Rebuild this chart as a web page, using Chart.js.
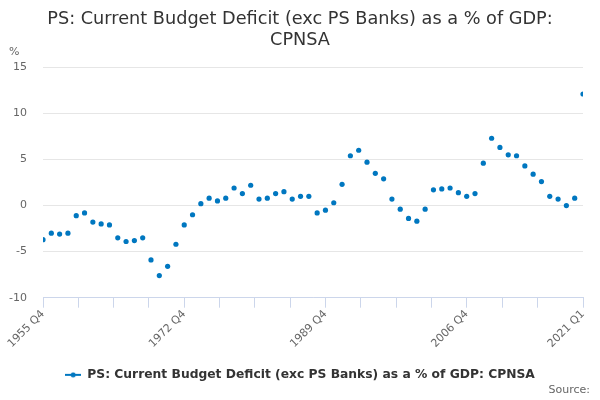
<!DOCTYPE html>
<html>
<head>
<meta charset="utf-8">
<script src="https://cdn.jsdelivr.net/npm/chart.js@4"></script>
<style>
  html, body { margin: 0; padding: 0; background: #fff; }
  #wrap { width: 600px; height: 400px; }
</style>
</head>
<body>
<div id="wrap"><canvas id="chart" width="600" height="400"></canvas></div>
<script>
// one point per year (Q4), last point is 2021 Q1
const categories = [
  '1955 Q4','1956 Q4','1957 Q4','1958 Q4','1959 Q4','1960 Q4','1961 Q4','1962 Q4','1963 Q4','1964 Q4',
  '1965 Q4','1966 Q4','1967 Q4','1968 Q4','1969 Q4','1970 Q4','1971 Q4','1972 Q4','1973 Q4','1974 Q4',
  '1975 Q4','1976 Q4','1977 Q4','1978 Q4','1979 Q4','1980 Q4','1981 Q4','1982 Q4','1983 Q4','1984 Q4',
  '1985 Q4','1986 Q4','1987 Q4','1988 Q4','1989 Q4','1990 Q4','1991 Q4','1992 Q4','1993 Q4','1994 Q4',
  '1995 Q4','1996 Q4','1997 Q4','1998 Q4','1999 Q4','2000 Q4','2001 Q4','2002 Q4','2003 Q4','2004 Q4',
  '2005 Q4','2006 Q4','2007 Q4','2008 Q4','2009 Q4','2010 Q4','2011 Q4','2012 Q4','2013 Q4','2014 Q4',
  '2015 Q4','2016 Q4','2017 Q4','2018 Q4','2019 Q4','2021 Q1'
];

const deficit = [
  -3.7, -3.0, -3.1, -3.0, -1.1, -0.8, -1.8, -2.0, -2.1, -3.5,
  -3.9, -3.8, -3.5, -5.9, -7.6, -6.6, -4.2, -2.1, -1.0, 0.2,
  0.8, 0.5, 0.8, 1.9, 1.3, 2.2, 0.7, 0.8, 1.3, 1.5,
  0.7, 1.0, 1.0, -0.8, -0.5, 0.3, 2.3, 5.4, 6.0, 4.7,
  3.5, 2.9, 0.7, -0.4, -1.4, -1.7, -0.4, 1.7, 1.8, 1.9,
  1.4, 1.0, 1.3, 4.6, 7.3, 6.3, 5.5, 5.4, 4.3, 3.4,
  2.6, 1.0, 0.7, 0.0, 0.8, 12.1
];

// x tick marks fall every 4.25 categories, labelled every 17th + the last one
const xTickMarks = [0, 4.25, 8.5, 12.75, 17, 21.25, 25.5, 29.75, 34, 38.25, 42.5, 46.75, 51, 55.25, 59.5, 65];
const xLabelled = [0, 17, 34, 51, 65];

const yTicks = [-10, -5, 0, 5, 10, 15];

const seriesName = 'PS: Current Budget Deficit (exc PS Banks) as a % of GDP: CPNSA';
const blue = '#0077c0';
const font = 'DejaVu Sans';

// legend symbol: short line with a dot
const legendIcon = document.createElement('canvas');
legendIcon.width = 16;
legendIcon.height = 6;
(function () {
  const c = legendIcon.getContext('2d');
  c.fillStyle = blue;
  c.fillRect(0, 2, 16, 2);
  c.beginPath();
  c.arc(8, 3, 2.5, 0, Math.PI * 2);
  c.fill();
})();

const extraText = {
  id: 'extraText',
  afterDraw(chart) {
    const ctx = chart.ctx;
    ctx.save();
    ctx.fillStyle = '#666';
    ctx.font = '11px "' + font + '"';
    ctx.textBaseline = 'middle';
    ctx.textAlign = 'left';
    ctx.fillText('%', 9, 52);
    ctx.textAlign = 'right';
    ctx.fillText('Source:', 590, 390);
    ctx.restore();
  }
};

new Chart(document.getElementById('chart'), {
  type: 'scatter',
  data: {
    datasets: [{
      label: seriesName,
      data: deficit.map((v, i) => ({ x: i, y: v })),
      backgroundColor: blue,
      borderColor: blue,
      borderWidth: 0,
      pointRadius: 2.6,
      pointHoverRadius: 3.5,
      showLine: false
    }]
  },
  options: {
    responsive: false,
    animation: false,
    layout: { padding: { top: 0, left: 0, right: 0, bottom: 9 } },
    scales: {
      x: {
        type: 'linear',
        min: 0,
        max: 65,
        afterBuildTicks(scale) {
          scale.ticks = xTickMarks.map(v => ({ value: v }));
        },
        afterFit(scale) { scale.height = 61; },
        grid: {
          drawOnChartArea: false,
          drawTicks: true,
          tickLength: 10,
          color: '#ccd6eb'
        },
        border: { display: true, color: '#ccd6eb' },
        ticks: {
          autoSkip: false,
          minRotation: 45,
          maxRotation: 45,
          padding: 0,
          color: '#666',
          font: { family: font, size: 11 },
          callback(value) {
            return xLabelled.includes(value) ? categories[value] : '';
          }
        }
      },
      y: {
        min: -10,
        max: 15,
        afterBuildTicks(scale) {
          scale.ticks = yTicks.map(v => ({ value: v }));
        },
        afterFit(scale) { scale.width = 43; },
        grid: { color: '#e6e6e6', drawTicks: false },
        border: { display: false },
        ticks: {
          padding: 16,
          color: '#666',
          font: { family: font, size: 11 }
        }
      },
      // empty right-hand axis, only keeps a margin so the title/legend stay centred on the page
      yRight: {
        position: 'right',
        min: -10,
        max: 15,
        afterFit(scale) { scale.width = 17; },
        grid: { display: false },
        border: { display: false },
        ticks: { display: false }
      }
    },
    plugins: {
      title: {
        display: true,
        text: ['PS: Current Budget Deficit (exc PS Banks) as a % of GDP:', 'CPNSA'],
        color: '#333',
        font: { family: font, size: 17.7, weight: 'normal', lineHeight: 1.186 },
        padding: { top: 8.5, bottom: 16.8 }
      },
      legend: {
        position: 'bottom',
        labels: {
          usePointStyle: true,
          pointStyle: legendIcon,
          pointStyleWidth: 16,
          color: '#333',
          font: { family: font, size: 12.3, weight: 'bold' },
          padding: 10
        }
      },
      tooltip: { enabled: true }
    }
  },
  plugins: [extraText]
});
</script>
</body>
</html>
